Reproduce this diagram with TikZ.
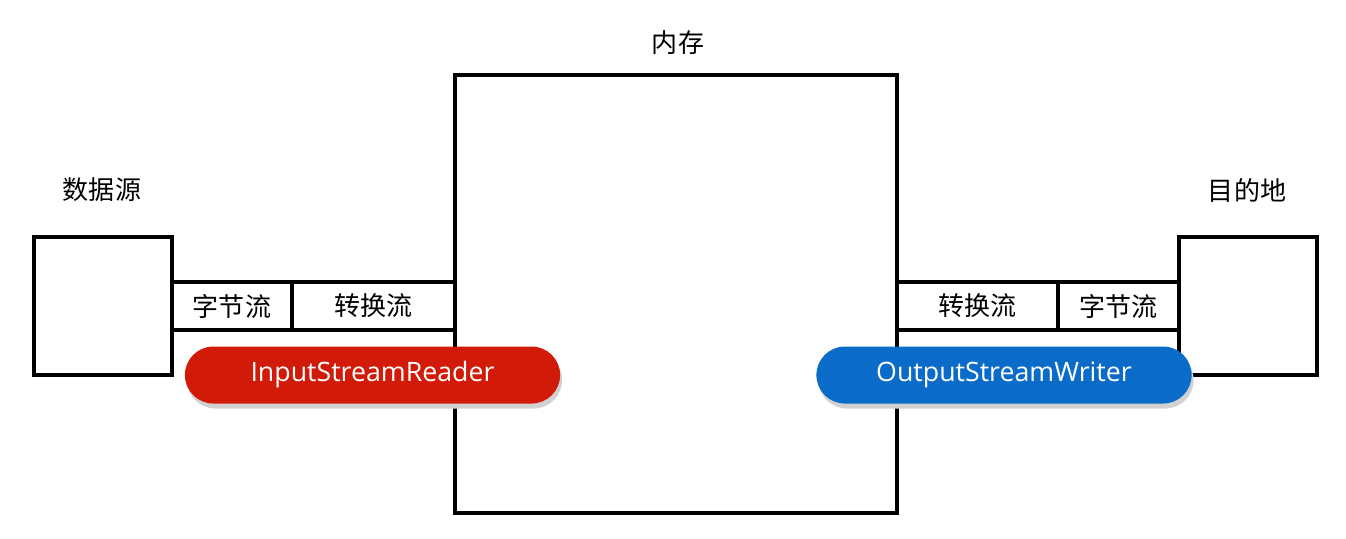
\documentclass[tikz,border=0pt]{standalone}
\usepackage{fontspec}
\setsansfont{Open Sans}
\newfontfamily\cjk{Noto Sans CJK SC}
\usetikzlibrary{shadows}

\tikzset{
  frame/.style={draw, line width=1pt, inner sep=0pt, outer sep=0pt, fill=white},
  cell/.style={frame, minimum height=0.48cm, font=\cjk\fontsize{7.4pt}{8pt}\selectfont},
  title/.style={font=\cjk\fontsize{7.4pt}{8pt}\selectfont},
  pill/.style={rounded corners=0.285cm, minimum width=3.75cm, minimum height=0.57cm,
    inner sep=0pt, text=white, font=\sffamily\fontsize{7.6pt}{8pt}\selectfont,
    drop shadow={shadow xshift=0.02cm, shadow yshift=-0.05cm, fill=black!18, opacity=1}}
}
\definecolor{readerred}{HTML}{D21A08}
\definecolor{writerblue}{HTML}{0A6BC9}

\begin{document}
\begin{tikzpicture}[x=0.01cm,y=-0.01cm]
  \useasboundingbox[fill=white] (0,0) rectangle (1346,538);

  % boxes
  \node[frame, minimum width=1.38cm, minimum height=1.38cm] (src) at (103,306) {};
  \node[frame, minimum width=4.42cm, minimum height=4.38cm] (mem) at (676,294) {};
  \node[frame, minimum width=1.38cm, minimum height=1.38cm] (dst) at (1248,306) {};

  \node[title] (srclabel) at (102,190) {数据源};
  \node[title] (memlabel) at (678,43) {内存};
  \node[title] (dstlabel) at (1247,190) {目的地};

  % streams
  \node[cell, minimum width=1.20cm] (inbyte) at (232,306) {字节流};
  \node[cell, minimum width=1.63cm] (inconv) at (373.5,306) {转换流};
  \node[cell, minimum width=1.61cm] (outconv) at (977.5,306) {转换流};
  \node[cell, minimum width=1.21cm] (outbyte) at (1118.5,306) {字节流};

  \node[pill, fill=readerred] (reader) at (372.5,375) {InputStreamReader};
  \node[pill, fill=writerblue] (writer) at (1004,375) {OutputStreamWriter};
\end{tikzpicture}
\end{document}
